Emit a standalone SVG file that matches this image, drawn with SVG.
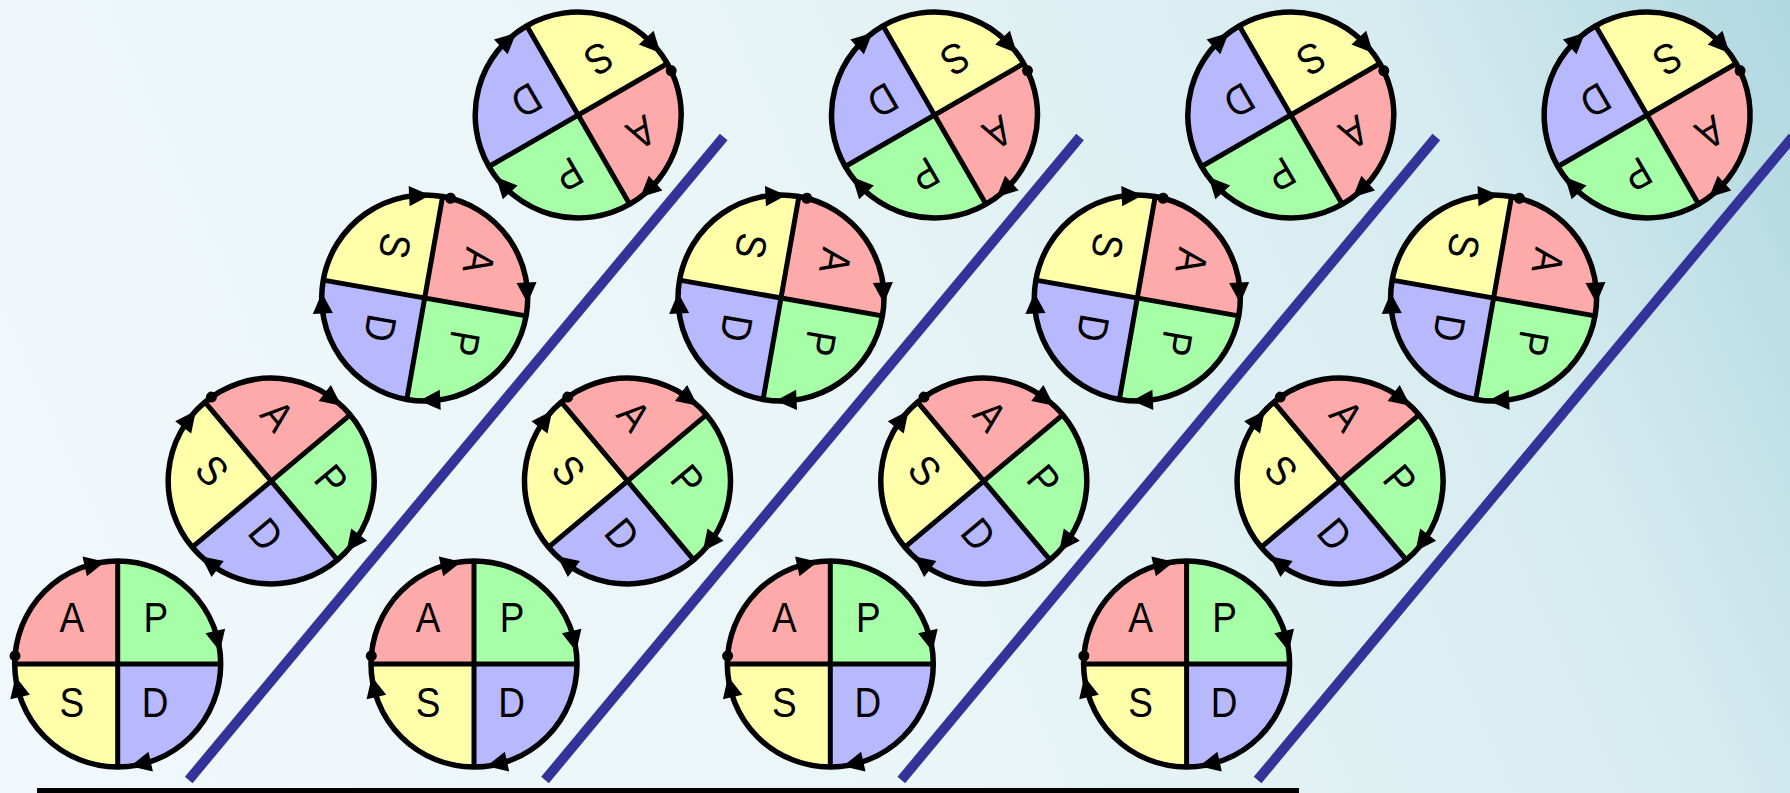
<svg xmlns="http://www.w3.org/2000/svg" xmlns:xlink="http://www.w3.org/1999/xlink" width="1790" height="793" viewBox="0 0 1790 793">
  <defs>
    <linearGradient id="bg" gradientUnits="userSpaceOnUse" x1="0" y1="793" x2="1790" y2="0">
      <stop offset="0" stop-color="#f1f8fb"/>
      <stop offset="0.45" stop-color="#eaf5f7"/>
      <stop offset="0.8" stop-color="#d6ecf0"/>
      <stop offset="1" stop-color="#b0d7e0"/>
    </linearGradient>
    <style>
      .qa { fill: #ffaaaa; }
      .qp { fill: #a6ffa6; }
      .qd { fill: #b8b8ff; }
      .qs { fill: #ffffaa; }
      .ring { fill: none; stroke: #000; stroke-width: 5.5; }
      .div { stroke: #000; stroke-width: 5; fill: none; }
      .head { fill: #000; }
      .lbl { font-family: "Liberation Sans", Arial, sans-serif; font-size: 42px; fill: #000; text-anchor: middle; }
      .ramp { stroke: #333399; stroke-width: 10; fill: none; }
    </style>
    <g id="arrowTop">
      <polygon class="head" points="-12.6,-102.2 -30.8,-87.8 -35.2,-107.4"/>
    </g>
    <g id="pdsa">
      <path class="qa" d="M0,0 L-103,0 A103,103 0 0 1 0,-103 Z"/>
      <path class="qp" d="M0,0 L0,-103 A103,103 0 0 1 103,0 Z"/>
      <path class="qd" d="M0,0 L103,0 A103,103 0 0 1 0,103 Z"/>
      <path class="qs" d="M0,0 L0,103 A103,103 0 0 1 -103,0 Z"/>
      <circle class="ring" cx="0" cy="0" r="103"/>
      <path class="div" d="M-103,0 H103 M0,-103 V103"/>
      <use xlink:href="#arrowTop"/>
      <use xlink:href="#arrowTop" transform="rotate(90)"/>
      <use xlink:href="#arrowTop" transform="rotate(180)"/>
      <use xlink:href="#arrowTop" transform="rotate(270)"/>
      <circle class="head" cx="-102.7" cy="-8.1" r="5.5"/>
      <text class="lbl" transform="translate(-46,-32.5) scale(0.88,1)">A</text>
      <text class="lbl" transform="translate(38,-32) scale(0.88,1)">P</text>
      <text class="lbl" transform="translate(-46,53) scale(0.88,1)">S</text>
      <text class="lbl" transform="translate(37.5,53) scale(0.88,1)">D</text>
    </g>
  </defs>

  <rect x="0" y="0" width="1790" height="793" fill="url(#bg)"/>

  <g id="connectors">
    <line class="ramp" x1="188.7" y1="780" x2="723.7" y2="137"/>
    <line class="ramp" x1="545" y1="780" x2="1080" y2="137"/>
    <line class="ramp" x1="901.3" y1="780" x2="1436.3" y2="137"/>
    <line class="ramp" x1="1257.6" y1="780" x2="1792.6" y2="137"/>
    <rect x="37" y="788" width="1262" height="5" fill="#000"/>
  </g>

  <g id="c0r0"><use xlink:href="#pdsa" transform="translate(117.7,664) rotate(0)"/></g>
  <g id="c0r1"><use xlink:href="#pdsa" transform="translate(271.2,481) rotate(50)"/></g>
  <g id="c0r2"><use xlink:href="#pdsa" transform="translate(424.7,298) rotate(100)"/></g>
  <g id="c0r3"><use xlink:href="#pdsa" transform="translate(578.2,115) rotate(150)"/></g>

  <g id="c1r0"><use xlink:href="#pdsa" transform="translate(474,664) rotate(0)"/></g>
  <g id="c1r1"><use xlink:href="#pdsa" transform="translate(627.5,481) rotate(50)"/></g>
  <g id="c1r2"><use xlink:href="#pdsa" transform="translate(781,298) rotate(100)"/></g>
  <g id="c1r3"><use xlink:href="#pdsa" transform="translate(934.5,115) rotate(150)"/></g>

  <g id="c2r0"><use xlink:href="#pdsa" transform="translate(830.3,664) rotate(0)"/></g>
  <g id="c2r1"><use xlink:href="#pdsa" transform="translate(983.8,481) rotate(50)"/></g>
  <g id="c2r2"><use xlink:href="#pdsa" transform="translate(1137.3,298) rotate(100)"/></g>
  <g id="c2r3"><use xlink:href="#pdsa" transform="translate(1290.8,115) rotate(150)"/></g>

  <g id="c3r0"><use xlink:href="#pdsa" transform="translate(1186.6,664) rotate(0)"/></g>
  <g id="c3r1"><use xlink:href="#pdsa" transform="translate(1340.1,481) rotate(50)"/></g>
  <g id="c3r2"><use xlink:href="#pdsa" transform="translate(1493.6,298) rotate(100)"/></g>
  <g id="c3r3"><use xlink:href="#pdsa" transform="translate(1647.1,115) rotate(150)"/></g>
</svg>
